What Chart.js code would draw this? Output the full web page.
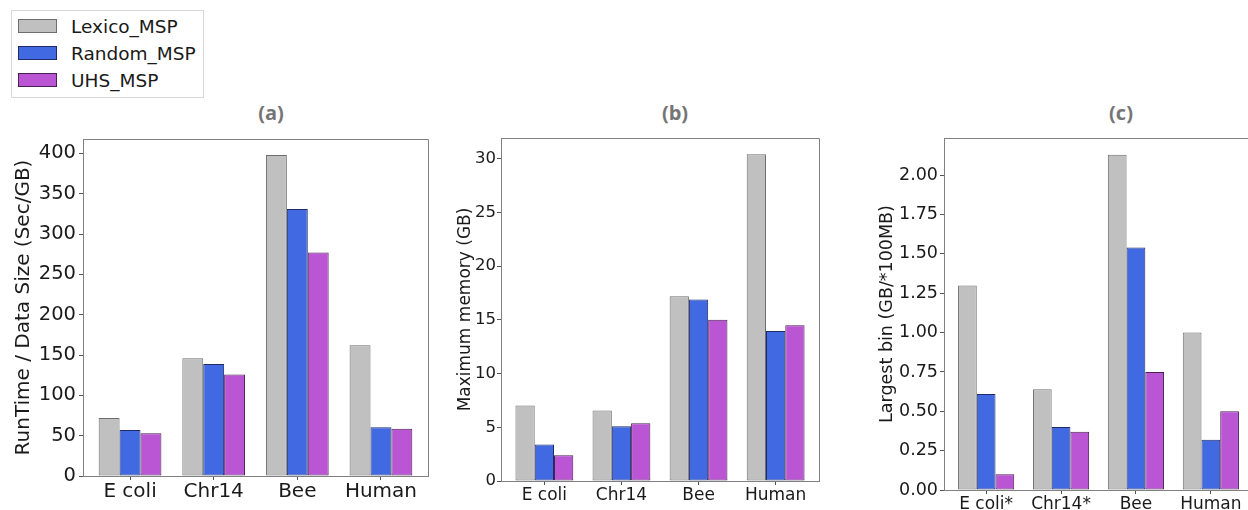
<!DOCTYPE html>
<html>
<head>
<meta charset="utf-8">
<script src="https://cdn.jsdelivr.net/npm/chart.js@4.4.1/dist/chart.umd.min.js"></script>
<style>
  html, body { margin: 0; padding: 0; background: #ffffff; }
  #wrap { position: relative; width: 1248px; height: 510px; overflow: hidden; background: #fff; }
  canvas { position: absolute; }
  .ptitle { position: absolute; font-family: "Open Sans", sans-serif; font-weight: 700; font-size: 20px; color: #757575; transform: translateX(-50%); line-height: 1; }
  #legend { position: absolute; left: 11px; top: 10px; width: 191px; height: 86px; border: 1px solid #d8d8d8; box-sizing: content-box; }
  .lrow { position: absolute; left: 6px; height: 14px; display: flex; align-items: center; }
  .lpatch { width: 37px; height: 12px; border: 1px solid #333; }
  .ltext { margin-left: 14px; font-family: "DejaVu Sans", sans-serif; font-size: 18.5px; color: #1a1a1a; white-space: nowrap; }
</style>
</head>
<body>
<div id="wrap">
  <div id="legend"></div>
  <div class="ptitle" style="left:271px; top:103px;">(a)</div>
  <div class="ptitle" style="left:675px; top:103px;">(b)</div>
  <div class="ptitle" style="left:1121px; top:103px;">(c)</div>
  <canvas id="cA" width="440" height="400" style="left:0px; top:110px;"></canvas>
  <canvas id="cB" width="400" height="400" style="left:440px; top:110px;"></canvas>
  <canvas id="cC" width="400" height="400" style="left:860px; top:110px;"></canvas>
</div>
<script>
// ---------- DATA ----------
const seriesNames = ['Lexico_MSP', 'Random_MSP', 'UHS_MSP'];
const seriesFill = ['#c0c0c0', '#4169e1', '#ba55d3'];
const seriesEdge = ['#6e6e6e', '#1f2b66', '#4a2052'];

const categoriesAB = ['E coli', 'Chr14', 'Bee', 'Human'];
const categoriesC = ['E coli*', 'Chr14*', 'Bee', 'Human'];

// (a) RunTime / Data Size (Sec/GB)
const runtimeLexico = [72, 146, 398, 162];
const runtimeRandom = [57, 139, 331, 60.5];
const runtimeUHS = [53, 126, 277, 58.5];

// (b) Maximum memory (GB)
const memoryLexico = [7.03, 6.57, 17.2, 30.4];
const memoryRandom = [3.4, 5.1, 16.9, 13.95];
const memoryUHS = [2.4, 5.38, 15.0, 14.5];

// (c) Largest bin (GB/*100MB)
const binLexico = [1.30, 0.64, 2.13, 1.00];
const binRandom = [0.61, 0.40, 1.54, 0.32];
const binUHS = [0.10, 0.37, 0.75, 0.50];

// tick labels
const yTicksA = [0, 50, 100, 150, 200, 250, 300, 350, 400];
const yTicksB = [0, 5, 10, 15, 20, 25, 30];
const yTicksC = [0, 0.25, 0.5, 0.75, 1.0, 1.25, 1.5, 1.75, 2.0];

const titleA = 'RunTime / Data Size (Sec/GB)';
const titleB = 'Maximum memory (GB)';
const titleC = 'Largest bin (GB/*100MB)';

// ---------- LEGEND (HTML, from series arrays) ----------
const legendEl = document.getElementById('legend');
const rowTops = [8, 35, 62];
seriesNames.forEach((name, i) => {
  const row = document.createElement('div');
  row.className = 'lrow';
  row.style.top = rowTops[i] + 'px';
  const p = document.createElement('div');
  p.className = 'lpatch';
  p.style.background = seriesFill[i];
  p.style.borderColor = seriesEdge[i];
  const t = document.createElement('span');
  t.className = 'ltext';
  t.textContent = name;
  row.appendChild(p); row.appendChild(t);
  legendEl.appendChild(row);
});

// ---------- CHART HELPERS ----------
const framePlugin = {
  id: 'frame',
  afterDraw(chart) {
    const { ctx, chartArea: a } = chart;
    ctx.save();
    ctx.strokeStyle = '#808080';
    ctx.lineWidth = 1;
    ctx.beginPath();
    ctx.moveTo(Math.round(a.left) + 0.5, Math.round(a.top) + 0.5);
    ctx.lineTo(Math.round(a.right) + 0.5, Math.round(a.top) + 0.5);
    ctx.lineTo(Math.round(a.right) + 0.5, Math.round(a.bottom) + 0.5);
    ctx.stroke();
    ctx.restore();
  }
};

function makeChart(id, cats, series, yTicks, yFmt, yTitle, geo) {
  const all = series.flat();
  const yMax = Math.max(...all) * 1.05;
  const xMargin = 0.375 + 0.1875;
  const datasets = series.map((vals, i) => ({
    label: seriesNames[i],
    data: vals.map((v, k) => ({ x: k, y: v })),
    backgroundColor: seriesFill[i],
    borderColor: seriesEdge[i],
    borderWidth: 1,
    borderSkipped: false,
    categoryPercentage: 0.75,
    barPercentage: 1.0
  }));
  return new Chart(document.getElementById(id), {
    type: 'bar',
    data: { datasets },
    plugins: [framePlugin],
    options: {
      responsive: false,
      animation: false,
      devicePixelRatio: 1,
      layout: { padding: { top: geo.padTop, right: geo.padRight, left: 0, bottom: 0 } },
      plugins: { legend: { display: false }, title: { display: false }, tooltip: { enabled: false } },
      scales: {
        x: {
          type: 'linear',
          offset: false,
          min: -xMargin,
          max: cats.length - 1 + xMargin,
          afterBuildTicks: (s) => { s.ticks = cats.map((c, k) => ({ value: k })); },
          afterFit: (s) => { s.height = geo.xH; },
          grid: { display: true, drawOnChartArea: false, drawTicks: true, tickLength: 4, tickColor: '#555', offset: false },
          border: { display: true, color: '#808080', width: 1 },
          ticks: {
            autoSkip: false, maxRotation: 0, padding: 0,
            color: '#1a1a1a',
            font: { family: 'DejaVu Sans', size: geo.xFont },
            callback: (v) => cats[v]
          }
        },
        y: {
          type: 'linear',
          min: 0,
          max: yMax,
          afterBuildTicks: (s) => { s.ticks = yTicks.map(v => ({ value: v })); },
          afterFit: (s) => { s.width = geo.yW; },
          grid: { display: true, drawOnChartArea: false, drawTicks: true, tickLength: 4, tickColor: '#555' },
          border: { display: true, color: '#808080', width: 1 },
          ticks: {
            padding: geo.yPad,
            color: '#1a1a1a',
            font: { family: 'DejaVu Sans', size: geo.yFont },
            callback: yFmt
          },
          title: {
            display: true,
            text: yTitle,
            color: '#1a1a1a',
            font: { family: 'DejaVu Sans', size: geo.tFont },
            padding: { top: geo.tPad, bottom: 0 }
          }
        }
      }
    }
  });
}

makeChart('cA', categoriesAB, [runtimeLexico, runtimeRandom, runtimeUHS], yTicksA,
  (v) => String(v), titleA,
  { padTop: 29, padRight: 12, xH: 34, yW: 83, xFont: 20, yFont: 19.5, yPad: 3, tFont: 20, tPad: 12 });

makeChart('cB', categoriesAB, [memoryLexico, memoryRandom, memoryUHS], yTicksB,
  (v) => String(v), titleB,
  { padTop: 28, padRight: 21, xH: 29, yW: 61, xFont: 17, yFont: 16.5, yPad: 1, tFont: 17, tPad: 15 });

makeChart('cC', categoriesC, [binLexico, binRandom, binUHS], yTicksC,
  (v) => Number(v).toFixed(2), titleC,
  { padTop: 28, padRight: 7, xH: 20, yW: 84, xFont: 17, yFont: 17.5, yPad: 2, tFont: 17.5, tPad: 17 });
</script>
</body>
</html>
